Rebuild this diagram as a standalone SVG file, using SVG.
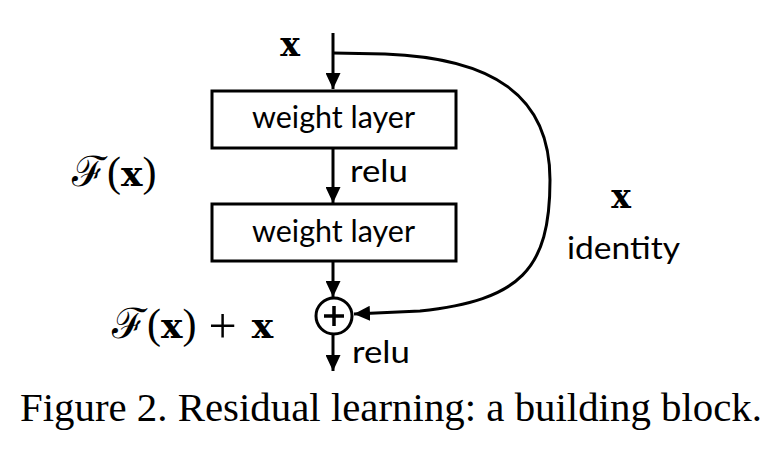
<svg xmlns="http://www.w3.org/2000/svg" width="774" height="452" viewBox="0 0 774 452">
<style>
.box{fill:#fff;stroke:#000;stroke-width:3}
.ln{fill:none;stroke:#000;stroke-width:3}
.lbl{font-family:Lato,"Liberation Sans",sans-serif;font-size:31px;fill:#000}
.math{font-family:"Liberation Serif","DejaVu Serif",serif;font-size:42px;fill:#000}
.bx{font-family:"DejaVu Serif","Liberation Serif",serif;font-weight:bold;font-size:33px;fill:#000}
.mx{font-size:36px}
.cap{font-family:"Liberation Serif","Times New Roman",serif;font-size:41px;fill:#000}
</style>
<defs>
<marker id="ah" viewBox="0 0 16 15" refX="16" refY="7.5" markerWidth="16" markerHeight="15" markerUnits="userSpaceOnUse" orient="auto">
<path d="M0,0 L16,7.5 L0,15 Z" fill="#000"/>
</marker>
</defs>
<rect width="774" height="452" fill="#fff"/>
<g id="connectors">
<path class="ln" d="M333,33 V89" marker-end="url(#ah)"/>
<path class="ln" d="M333,149 V203" marker-end="url(#ah)"/>
<path class="ln" d="M333,261 V297" marker-end="url(#ah)"/>
<path class="ln" d="M333,334 V371" marker-end="url(#ah)"/>
<path class="ln" d="M333,53 L385,54 C 492,58 550,95 550,180 C 550,270 520,300 420,311 L 354,314" marker-end="url(#ah)"/>
</g>
<g id="input-x"><text class="bx" x="290" y="56" text-anchor="middle">x</text></g>
<g id="weight-layer-1">
<rect class="box" x="212" y="91" width="244" height="57"/>
<text class="lbl" x="252" y="128" textLength="163" lengthAdjust="spacingAndGlyphs">weight layer</text>
</g>
<g id="relu-1"><text class="lbl" x="350" y="182" textLength="58" lengthAdjust="spacingAndGlyphs">relu</text></g>
<g id="Fx"><text class="math" x="72" y="186">ℱ(<tspan class="bx mx">x</tspan>)</text></g>
<g id="weight-layer-2">
<rect class="box" x="212" y="204" width="244" height="57"/>
<text class="lbl" x="252" y="242" textLength="163" lengthAdjust="spacingAndGlyphs">weight layer</text>
</g>
<g id="identity">
<text class="bx" x="621" y="208" text-anchor="middle">x</text>
<text class="lbl" x="567" y="259" textLength="113" lengthAdjust="spacingAndGlyphs">identity</text>
</g>
<g id="add">
<circle cx="334" cy="316" r="18" fill="#fff" stroke="#000" stroke-width="3"/>
<path d="M324,316 H344 M334,306 V326" stroke="#000" stroke-width="3.5"/>
</g>
<g id="Fx-plus-x"><text class="math" x="112" y="338">ℱ(<tspan class="bx mx">x</tspan>)<tspan dx="12" dy="5" font-size="50">+</tspan><tspan class="bx mx" dx="15" dy="-5">x</tspan></text></g>
<g id="relu-2"><text class="lbl" x="352" y="363" textLength="58" lengthAdjust="spacingAndGlyphs">relu</text></g>
<g id="caption"><text class="cap" x="20" y="421" textLength="742" lengthAdjust="spacingAndGlyphs">Figure 2. Residual learning: a building block.</text></g>
</svg>
